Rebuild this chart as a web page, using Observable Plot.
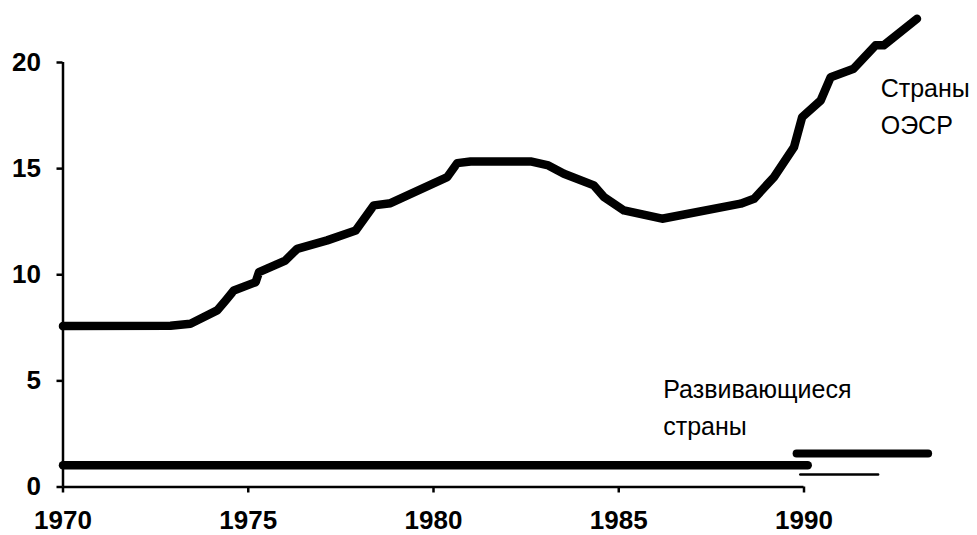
<!DOCTYPE html>
<html>
<head>
<meta charset="utf-8">
<script src="https://cdn.jsdelivr.net/npm/d3@7"></script>
<script src="https://cdn.jsdelivr.net/npm/@observablehq/plot@0.6"></script>
<style>
  html, body { margin: 0; padding: 0; background: #fff; }
  #chart { width: 977px; height: 535px; }
</style>
</head>
<body>
<div id="chart"></div>
<script>
// Tick values
const xTicks = [1970, 1975, 1980, 1985, 1990];
const yTicks = [0, 5, 10, 15, 20];

// OECD countries (Страны ОЭСР)
const oecdYears  = [1970, 1972.9, 1973.44, 1974.16, 1974.39, 1974.61, 1975.2, 1975.29, 1976.0, 1976.32, 1977.13, 1977.9, 1978.39, 1978.84, 1980.37, 1980.64, 1981.0, 1982.62, 1983.1, 1983.52, 1984.33, 1984.6, 1985.14, 1986.17, 1988.29, 1988.65, 1989.19, 1989.73, 1989.95, 1990.45, 1990.72, 1991.34, 1991.93, 1992.15, 1993.05];
const oecdValues = [7.58, 7.6, 7.69, 8.32, 8.79, 9.26, 9.65, 10.12, 10.67, 11.22, 11.62, 12.09, 13.27, 13.37, 14.6, 15.26, 15.34, 15.34, 15.15, 14.76, 14.21, 13.66, 13.03, 12.64, 13.35, 13.58, 14.6, 16.01, 17.43, 18.21, 19.31, 19.71, 20.81, 20.81, 22.06];

// Developing countries (Развивающиеся страны): three segments
const devAYears = [1970, 1990.1];   const devAValues = [1.02, 1.02];
const devBYears = [1989.8, 1993.35]; const devBValues = [1.58, 1.58];
const devCYears = [1989.9, 1992.0];  const devCValues = [0.59, 0.59];

// Annotations
const labelTexts = ["Страны\nОЭСР", "Развивающиеся\nстраны"];
const labelYears = [1992.07, 1986.2];
const labelValues = [19.62, 5.43];

const zip = (xs, ys) => xs.map((x, i) => ({x, y: ys[i]}));
const oecd = zip(oecdYears, oecdValues);
const devA = zip(devAYears, devAValues);
const devB = zip(devBYears, devBValues);
const devC = zip(devCYears, devCValues);
const labels = labelTexts.map((t, i) => ({t, x: labelYears[i], y: labelValues[i]}));

const chart = Plot.plot({
  width: 977,
  height: 535,
  marginLeft: 62.5,
  marginRight: 173.5,
  marginTop: 62,
  marginBottom: 48.5,
  x: {domain: [1970, 1990], label: null},
  y: {domain: [0, 20], label: null},
  style: {fontFamily: "'Liberation Sans', Arial, sans-serif", background: "#fff", color: "#000", overflow: "visible"},
  marks: [
    Plot.axisX(xTicks, {label: null, tickSize: 6, tickPadding: 18, fontSize: 26, fontWeight: "bold", strokeWidth: 2.5, tickFormat: d => String(d)}),
    Plot.axisY(yTicks, {label: null, tickSize: 6, tickPadding: 16, fontSize: 26, fontWeight: "bold", strokeWidth: 2.5, tickFormat: d => String(d)}),
    Plot.ruleY([0], {x1: 1970, x2: 1990, strokeWidth: 2.5, stroke: "#000"}),
    Plot.ruleX([1970], {y1: 0, y2: 20, strokeWidth: 2.5, stroke: "#000"}),
    Plot.line(devA, {x: "x", y: "y", stroke: "#000", strokeWidth: 8.5, strokeLinecap: "round"}),
    Plot.line(devB, {x: "x", y: "y", stroke: "#000", strokeWidth: 8, strokeLinecap: "round"}),
    Plot.line(devC, {x: "x", y: "y", stroke: "#000", strokeWidth: 2.5, strokeLinecap: "round"}),
    Plot.line(oecd, {x: "x", y: "y", stroke: "#000", strokeWidth: 8.5, curve: "linear", strokeLinecap: "round", strokeLinejoin: "round"}),
    Plot.text(labels, {x: "x", y: "y", text: "t", textAnchor: "start", lineAnchor: "top", lineHeight: 1.48, fontSize: 25, fill: "#000"})
  ]
});
document.getElementById("chart").appendChild(chart);
</script>
</body>
</html>
